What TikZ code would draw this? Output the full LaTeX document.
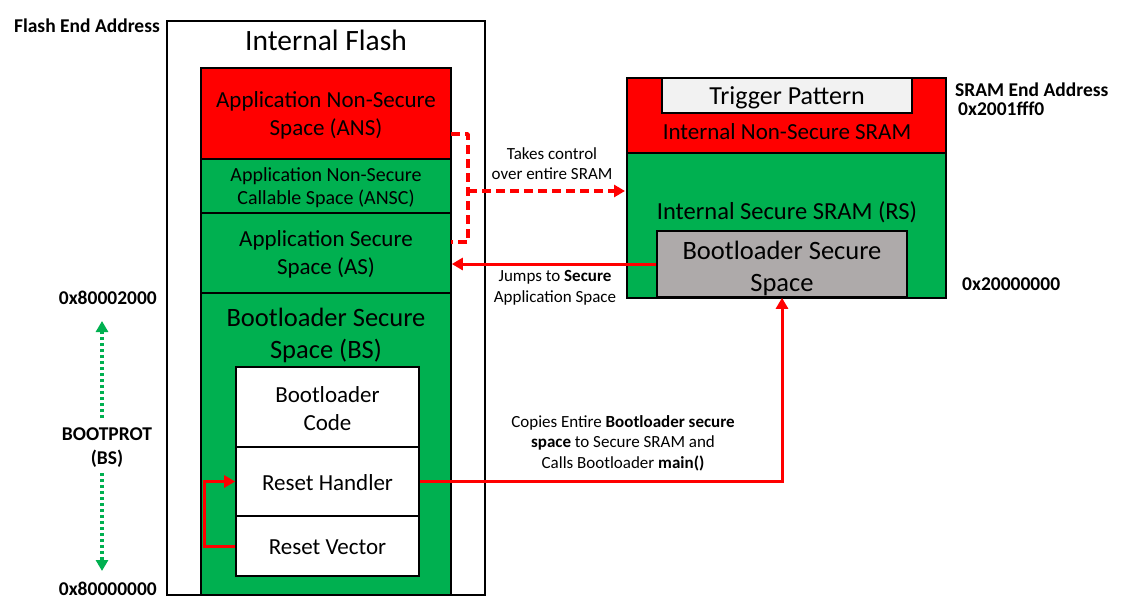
\documentclass[tikz,border=0pt]{standalone}
\usepackage{fontspec}
\setmainfont{Carlito}
\usetikzlibrary{arrows.meta,calc}
\definecolor{msred}{HTML}{FF0000}
\definecolor{msgreen}{HTML}{00B050}
\definecolor{msgray}{HTML}{AEAAAA}
\definecolor{mslight}{HTML}{F2F2F2}
\tikzset{
  x=1pt,y=-1pt,
  region/.style={draw=black,line width=1.6pt,minimum width=#1,inner sep=0pt,align=center},
  txt/.style={inner sep=0pt,align=center},
  t23/.style={font=\fontsize{23}{28}\selectfont},
  lbl/.style={inner sep=0pt,align=center,font=\fontsize{17}{20.5}\selectfont},
  addr/.style={inner sep=0pt,font=\bfseries\fontsize{19.5}{24}\selectfont},
  redline/.style={draw=msred,line width=3pt},
  redarrow/.style={redline,-{Triangle[length=11pt,width=12pt]}},
  reddash/.style={draw=msred,line width=3.5pt,dash pattern=on 9pt off 5pt},
  greendot/.style={draw=msgreen,line width=3.5pt,dash pattern=on 3pt off 3pt,-{Triangle[length=11pt,width=12pt]}}
}
\begin{document}
\begin{tikzpicture}
\useasboundingbox[fill=white] (0,0) rectangle (1122,606);
% Internal Flash
\node[region=318pt,minimum height=574pt] (flash) at (326,308) {};
\node[txt,font=\fontsize{29.5}{32}\selectfont] (flt) at (326,40) {Internal Flash};
\node[region=250pt,minimum height=91pt,fill=msred] (ans) at (326,113.5) {};
\node[txt,t23] (anst) at (326,115.5) {Application Non-Secure\\Space (ANS)};
\node[region=250pt,minimum height=54pt,fill=msgreen] (ansc) at (326,186) {};
\node[txt,font=\fontsize{20}{23}\selectfont] (ansct) at (326,187.5) {Application Non-Secure\\Callable Space (ANSC)};
\node[region=250pt,minimum height=80pt,fill=msgreen] (as) at (326,253) {};
\node[txt,t23] (ast) at (326,254) {Application Secure\\Space (AS)};
\node[region=250pt,minimum height=302pt,fill=msgreen] (bs) at (326,444) {};
\node[txt,font=\fontsize{26.5}{32}\selectfont] (bst) at (326,335) {Bootloader Secure\\Space (BS)};
\node[region=183pt,minimum height=80pt,fill=white] (bcode) at (327.5,407) {};
\node[txt,t23] (bcodet) at (327.5,409) {Bootloader\\Code};
\node[region=183pt,minimum height=69pt,fill=white] (rh) at (327.5,481.5) {};
\node[txt,t23] (rht) at (327.5,483) {Reset Handler};
\node[region=183pt,minimum height=60pt,fill=white] (rv) at (327.5,546) {};
\node[txt,t23] (rvt) at (327.5,547.5) {Reset Vector};
% SRAM
\node[region=319pt,minimum height=75pt,fill=msred] (srns) at (786.5,115.5) {};
\node[region=319pt,minimum height=145pt,fill=msgreen] (srs) at (786.5,225.5) {};
\node[region=250pt,minimum height=35pt,fill=mslight] (trig) at (787,95.5) {};
\node[txt,font=\fontsize{26}{30}\selectfont] (trigt) at (787,97.5) {Trigger Pattern};
\node[txt,t23] (nst) at (787,132) {Internal Non-Secure SRAM};
\node[txt,font=\fontsize{24.5}{28}\selectfont] (sst) at (787,212) {Internal Secure SRAM (RS)};
\node[region=250pt,minimum height=66pt,fill=msgray] (bss) at (782,264) {};
\node[txt,font=\fontsize{26.5}{32}\selectfont] (bsst) at (782,268) {Bootloader Secure\\Space};
% address labels
\node[addr,anchor=east] (fea) at (160,26) {Flash End Address};
\node[addr,anchor=east] (a2000) at (157,298) {0x80002000};
\node[addr,align=center] (bp) at (107,448) {BOOTPROT\\(BS)};
\node[addr,anchor=east] (a0000) at (157,589) {0x80000000};
\node[addr,anchor=west] (sea) at (955,90) {SRAM End Address};
\node[addr,anchor=west] (sfff) at (958,109) {0x2001fff0};
\node[addr,anchor=west] (s0000) at (962,284) {0x20000000};
% connector labels
\node[lbl] (tk) at (552,163.5) {Takes control\\over entire SRAM};
\node[lbl] (jp) at (555,288) {Jumps to \textbf{Secure}\\Application Space};
\node[lbl] (cp) at (623,443) {Copies Entire \textbf{Bootloader secure}\\\textbf{space} to Secure SRAM and\\Calls Bootloader \textbf{main()}};
% dashed bracket and arrow
\coordinate (d1) at (451,134);
\coordinate (d2) at (468,134);
\coordinate (d3) at (468,242);
\coordinate (d4) at (451,242);
\coordinate (dm) at (468,191);
\coordinate (de) at (625,191);
\draw[reddash,line join=round] (d1) -- (d2) -- (d3) -- (d4);
\draw[reddash,-{Triangle[length=11pt,width=12pt]}] (dm) -- (de);
% jumps arrow
\draw[redarrow] (bss.west) -- (bss.west -| as.east);
% copy arrow
\draw[redarrow] (rh.east) -| (bss.south);
% reset loop
\draw[redarrow] (rv.west) -- ++(-31,0) |- (rh.west);
% green dotted arrows
\coordinate (g1) at (102,418);
\coordinate (g2) at (102,321);
\coordinate (g3) at (102,473);
\coordinate (g4) at (102,571);
\draw[greendot] (g1) -- (g2);
\draw[greendot] (g3) -- (g4);
\end{tikzpicture}
\end{document}
